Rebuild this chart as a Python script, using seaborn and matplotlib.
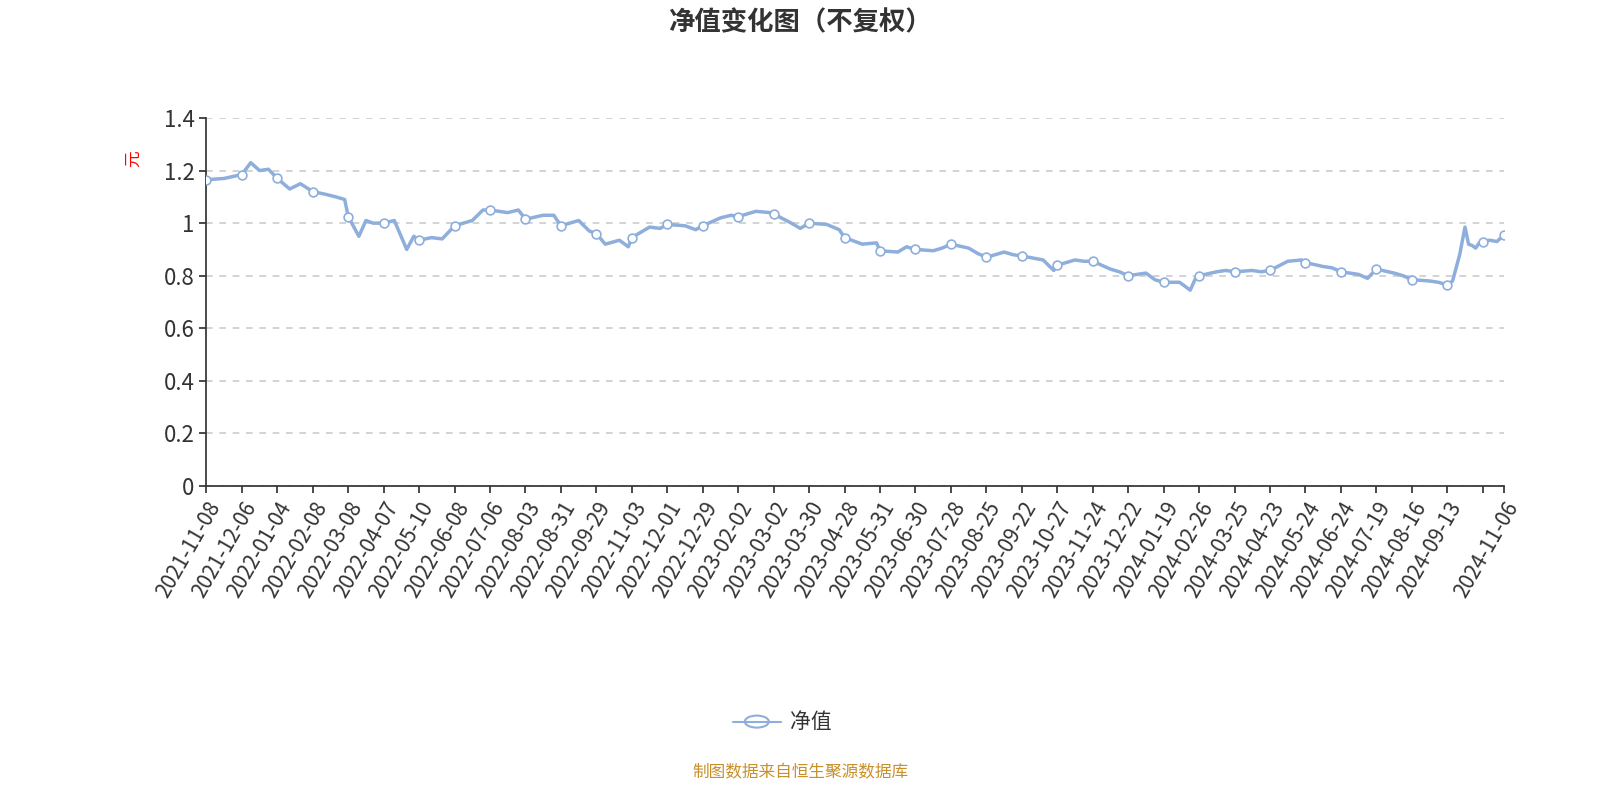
import matplotlib
matplotlib.use("Agg")
import matplotlib.pyplot as plt
import seaborn as sns
import pandas as pd

sns.set_theme(style="white")
plt.rcParams['font.family'] = ['Noto Sans CJK SC', 'DejaVu Sans']

tick_labels = ["2021-11-08", "2021-12-06", "2022-01-04", "2022-02-08", "2022-03-08", "2022-04-07",
               "2022-05-10", "2022-06-08", "2022-07-06", "2022-08-03", "2022-08-31", "2022-09-29",
               "2022-11-03", "2022-12-01", "2022-12-29", "2023-02-02", "2023-03-02", "2023-03-30",
               "2023-04-28", "2023-05-31", "2023-06-30", "2023-07-28", "2023-08-25", "2023-09-22",
               "2023-10-27", "2023-11-24", "2023-12-22", "2024-01-19", "2024-02-26", "2024-03-25",
               "2024-04-23", "2024-05-24", "2024-06-24", "2024-07-19", "2024-08-16", "2024-09-13",
               "", "2024-11-06"]
tick_idx = [i * 20 for i in range(37)] + [732]

# trading-day index and NAV (yuan)
day = [0, 10, 20, 25, 30, 35, 40, 47, 53, 60, 67, 73, 78, 80, 86, 90, 94, 100, 106, 113, 117, 120,
       127, 133, 140, 150, 156, 160, 170, 176, 180, 190, 196, 200, 210, 216, 220, 225, 233, 238, 240,
       250, 256, 260, 270, 276, 280, 290, 296, 300, 310, 318, 320, 330, 335, 340, 350, 357, 360, 370,
       378, 380, 390, 395, 400, 410, 415, 420, 430, 435, 440, 450, 455, 460, 472, 478, 480, 490, 495,
       500, 510, 515, 520, 530, 535, 540, 549, 555, 558, 560, 570, 575, 580, 590, 595, 600, 610, 618,
       620, 630, 635, 640, 650, 655, 660, 670, 675, 680, 690, 695, 700, 703, 707, 710, 712, 714, 716,
       718, 720, 724, 728, 732]
nav = [1.165, 1.17, 1.185, 1.23, 1.20, 1.205, 1.17, 1.13, 1.15, 1.12, 1.11, 1.10, 1.09, 1.025, 0.95,
       1.01, 1.00, 1.00, 1.01, 0.90, 0.95, 0.935, 0.945, 0.94, 0.99, 1.01, 1.05, 1.05, 1.04, 1.05,
       1.015, 1.03, 1.03, 0.99, 1.01, 0.97, 0.96, 0.92, 0.935, 0.91, 0.945, 0.985, 0.98, 0.995, 0.99,
       0.975, 0.99, 1.02, 1.03, 1.025, 1.045, 1.04, 1.035, 1.00, 0.98, 1.00, 0.995, 0.975, 0.945, 0.92,
       0.925, 0.895, 0.89, 0.91, 0.90, 0.895, 0.905, 0.92, 0.905, 0.885, 0.87, 0.89, 0.88, 0.875, 0.86,
       0.82, 0.84, 0.86, 0.855, 0.855, 0.825, 0.815, 0.80, 0.81, 0.785, 0.775, 0.775, 0.745, 0.79, 0.80,
       0.815, 0.82, 0.815, 0.82, 0.815, 0.82, 0.855, 0.86, 0.85, 0.835, 0.83, 0.815, 0.805, 0.79, 0.825,
       0.81, 0.80, 0.785, 0.78, 0.775, 0.765, 0.78, 0.88, 0.985, 0.92, 0.915, 0.905, 0.925, 0.93, 0.935,
       0.93, 0.955]

df = pd.DataFrame({"day": day, "nav": nav})
marks = df[df["day"].isin(tick_idx)]

color = "#8eaedc"
fig = plt.figure(figsize=(16, 8), dpi=100)
ax = fig.add_axes([0.129, 0.3925, 0.811, 0.46])
sns.lineplot(data=df, x="day", y="nav", ax=ax, color=color, linewidth=2.5)
ax.scatter(marks["day"], marks["nav"], s=40, facecolor="white", edgecolor=color, linewidth=1.2, zorder=3)

ax.set_xlim(0, 732)
ax.set_ylim(0, 1.4)
ax.set_yticks([0, 0.2, 0.4, 0.6, 0.8, 1.0, 1.2, 1.4])
ax.set_yticklabels(["0", "0.2", "0.4", "0.6", "0.8", "1", "1.2", "1.4"], fontsize=16, color="#333333")
ax.set_xticks(tick_idx)
ax.set_xticklabels(tick_labels, rotation=60, ha="right", rotation_mode="anchor", fontsize=15, color="#333333")
ax.tick_params(axis="both", length=5, color="#333333", direction="out", bottom=True, left=True)
ax.yaxis.grid(True, linestyle=(0, (4, 4)), color="#cccccc", linewidth=1.2)
for s in ["top", "right"]:
    ax.spines[s].set_visible(False)
for s in ["left", "bottom"]:
    ax.spines[s].set_color("#333333")
ax.set_xlabel("")
ax.set_ylabel("元", color="red", fontsize=12, rotation=90)
ax.yaxis.set_label_coords(-0.05, 0.89)

fig.text(0.5, 0.972, "净值变化图（不复权）", ha="center", va="center", fontsize=19, fontweight="bold", color="#333333")
fig.lines.append(plt.Line2D([0.458, 0.488], [0.098, 0.098], color=color, linewidth=1.5, transform=fig.transFigure))
fig.patches.append(plt.Circle((0.473, 0.098), 0.0075, transform=fig.transFigure, facecolor="white",
                              edgecolor=color, linewidth=1.5))
fig.text(0.494, 0.098, "净值", ha="left", va="center", fontsize=15, color="#333333")
fig.text(0.5, 0.034, "制图数据来自恒生聚源数据库", ha="center", va="center", fontsize=12, color="#c8902a")

fig.savefig("out.png")
